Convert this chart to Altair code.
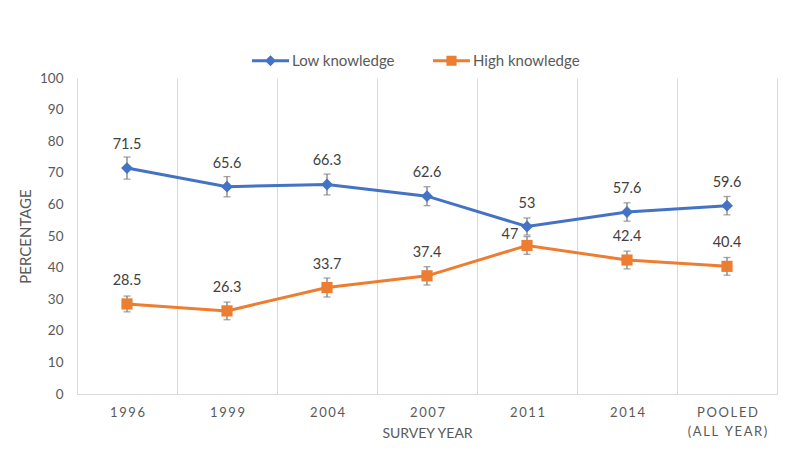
import altair as alt
import pandas as pd

years = ["1996", "1999", "2004", "2007", "2011", "2014", "POOLED (ALL YEAR)"]
series_names = ["Low knowledge", "High knowledge"]
low_values = [71.5, 65.6, 66.3, 62.6, 53, 57.6, 59.6]
high_values = [28.5, 26.3, 33.7, 37.4, 47, 42.4, 40.4]
low_err = [3.5, 3.2, 3.3, 3.0, 2.7, 2.9, 2.9]
high_err = [2.5, 2.8, 3.0, 2.9, 2.8, 2.8, 2.8]
colors = ["#4472C4", "#ED7D31"]

rows = []
for s, vals, errs in ((series_names[0], low_values, low_err),
                      (series_names[1], high_values, high_err)):
    for y, v, e in zip(years, vals, errs):
        rows.append({"year": y, "series": s, "value": v, "err": e, "label": f"{v:g}"})
df = pd.DataFrame(rows)

FONT = "Lato"
TXT = "#595959"
GRID = "#D9D9D9"

sp = "\u2009"
v = "datum.value"
label_expr = (
    f"!isString({v}) ? '' : "
    f"(indexof({v}, ' (') > 0 ? "
    f"[join(split(slice({v}, 0, indexof({v}, ' (')), ''), '{sp}'), "
    f"join(split(slice({v}, indexof({v}, ' (') + 1), ''), '{sp}')] : "
    f"join(split({v}, ''), '{sp}'))"
)

x_axis = alt.Axis(
    title="SURVEY YEAR", labelAngle=0, labelExpr=label_expr, labelFont=FONT,
    labelFontSize=13, labelColor=TXT, labelPadding=12, labelLineHeight=19,
    ticks=False, domainColor=GRID, domainWidth=1, grid=True, gridColor=GRID,
    gridWidth=1, tickBand="extent", titleFont=FONT, titleFontSize=14,
    titleFontWeight="normal", titleColor=TXT, titleY=32, titleBaseline="top",
)
x_enc = alt.X("year:N", sort=years,
              scale=alt.Scale(type="band", paddingInner=0, paddingOuter=0),
              axis=x_axis)

y_axis = alt.Axis(
    title="PERCENTAGE", values=list(range(0, 101, 10)), grid=False, ticks=False,
    domainColor=GRID, domainWidth=1, labelFont=FONT, labelFontSize=13.5,
    labelColor=TXT, labelPadding=14, titleFont=FONT, titleFontSize=15,
    titleFontWeight="normal", titleColor=TXT, titlePadding=6,
)
y_scale = alt.Scale(domain=[0, 100])

color_scale = alt.Scale(domain=series_names, range=colors)

base = alt.Chart(df).transform_calculate(
    lo="datum.value - datum.err", hi="datum.value + datum.err"
)

line = base.mark_line(strokeWidth=3).encode(
    x=x_enc,
    y=alt.Y("value:Q", scale=y_scale, axis=y_axis),
    color=alt.Color("series:N", scale=color_scale, legend=None),
)

err_rule = base.mark_rule(color="#7F7F7F", strokeWidth=1.3).encode(
    x=x_enc,
    y=alt.Y("lo:Q", scale=y_scale, axis=y_axis),
    y2="hi:Q",
)
cap_lo = base.mark_tick(color="#7F7F7F", thickness=1.3, size=7).encode(
    x=x_enc, y=alt.Y("lo:Q", scale=y_scale, axis=y_axis)
)
cap_hi = base.mark_tick(color="#7F7F7F", thickness=1.3, size=7).encode(
    x=x_enc, y=alt.Y("hi:Q", scale=y_scale, axis=y_axis)
)

pts_low = base.transform_filter(alt.datum.series == series_names[0]).mark_point(
    shape="diamond", filled=True, size=140, opacity=1
).encode(
    x=x_enc, y=alt.Y("value:Q", scale=y_scale, axis=y_axis),
    color=alt.Color("series:N", scale=color_scale, legend=None),
)
pts_high = base.transform_filter(alt.datum.series == series_names[1]).mark_point(
    shape="square", filled=True, size=125, opacity=1
).encode(
    x=x_enc, y=alt.Y("value:Q", scale=y_scale, axis=y_axis),
    color=alt.Color("series:N", scale=color_scale, legend=None),
)

legend_paths = [
    "M-2,-0.16H2V0.16H-2Z M0,-0.6L0.6,0L0,0.6L-0.6,0Z",
    "M-2,-0.16H2V0.16H-2Z M-0.55,-0.55H0.55V0.55H-0.55Z",
]
leg = alt.Legend(
    orient="none", legendX=184, legendY=-27, direction="horizontal", title=None,
    symbolSize=342, symbolOpacity=1, symbolStrokeWidth=0, labelFont=FONT,
    labelFontSize=15, labelColor=TXT, labelOffset=12, columnPadding=38,
)
legend_carrier = base.mark_point(filled=True, opacity=0).encode(
    x=x_enc, y=alt.Y("value:Q", scale=y_scale, axis=y_axis),
    color=alt.Color("series:N", scale=color_scale, legend=leg),
    shape=alt.Shape("series:N", scale=alt.Scale(domain=series_names, range=legend_paths),
                    legend=leg),
)

special = (alt.datum.series == series_names[1]) & (alt.datum.year == years[4])
labels = base.transform_filter(~special).mark_text(
    dy=-23, font=FONT, fontSize=14.5, color="#404040"
).encode(
    x=x_enc, y=alt.Y("value:Q", scale=y_scale, axis=y_axis), text="label:N"
)
label_special = base.transform_filter(special).mark_text(
    dx=-17, dy=-10, font=FONT, fontSize=14.5, color="#404040"
).encode(
    x=x_enc, y=alt.Y("value:Q", scale=y_scale, axis=y_axis), text="label:N"
)

chart = alt.layer(
    legend_carrier, line, err_rule, cap_lo, cap_hi, pts_low, pts_high, labels, label_special
).properties(
    width=700, height=316, autosize="none",
    padding={"left": 69, "top": 70, "right": 15, "bottom": 56},
    background="white",
).configure(font=FONT).configure_view(stroke=None)

chart.save("out.html", embed_options={"renderer": "svg", "actions": False})
